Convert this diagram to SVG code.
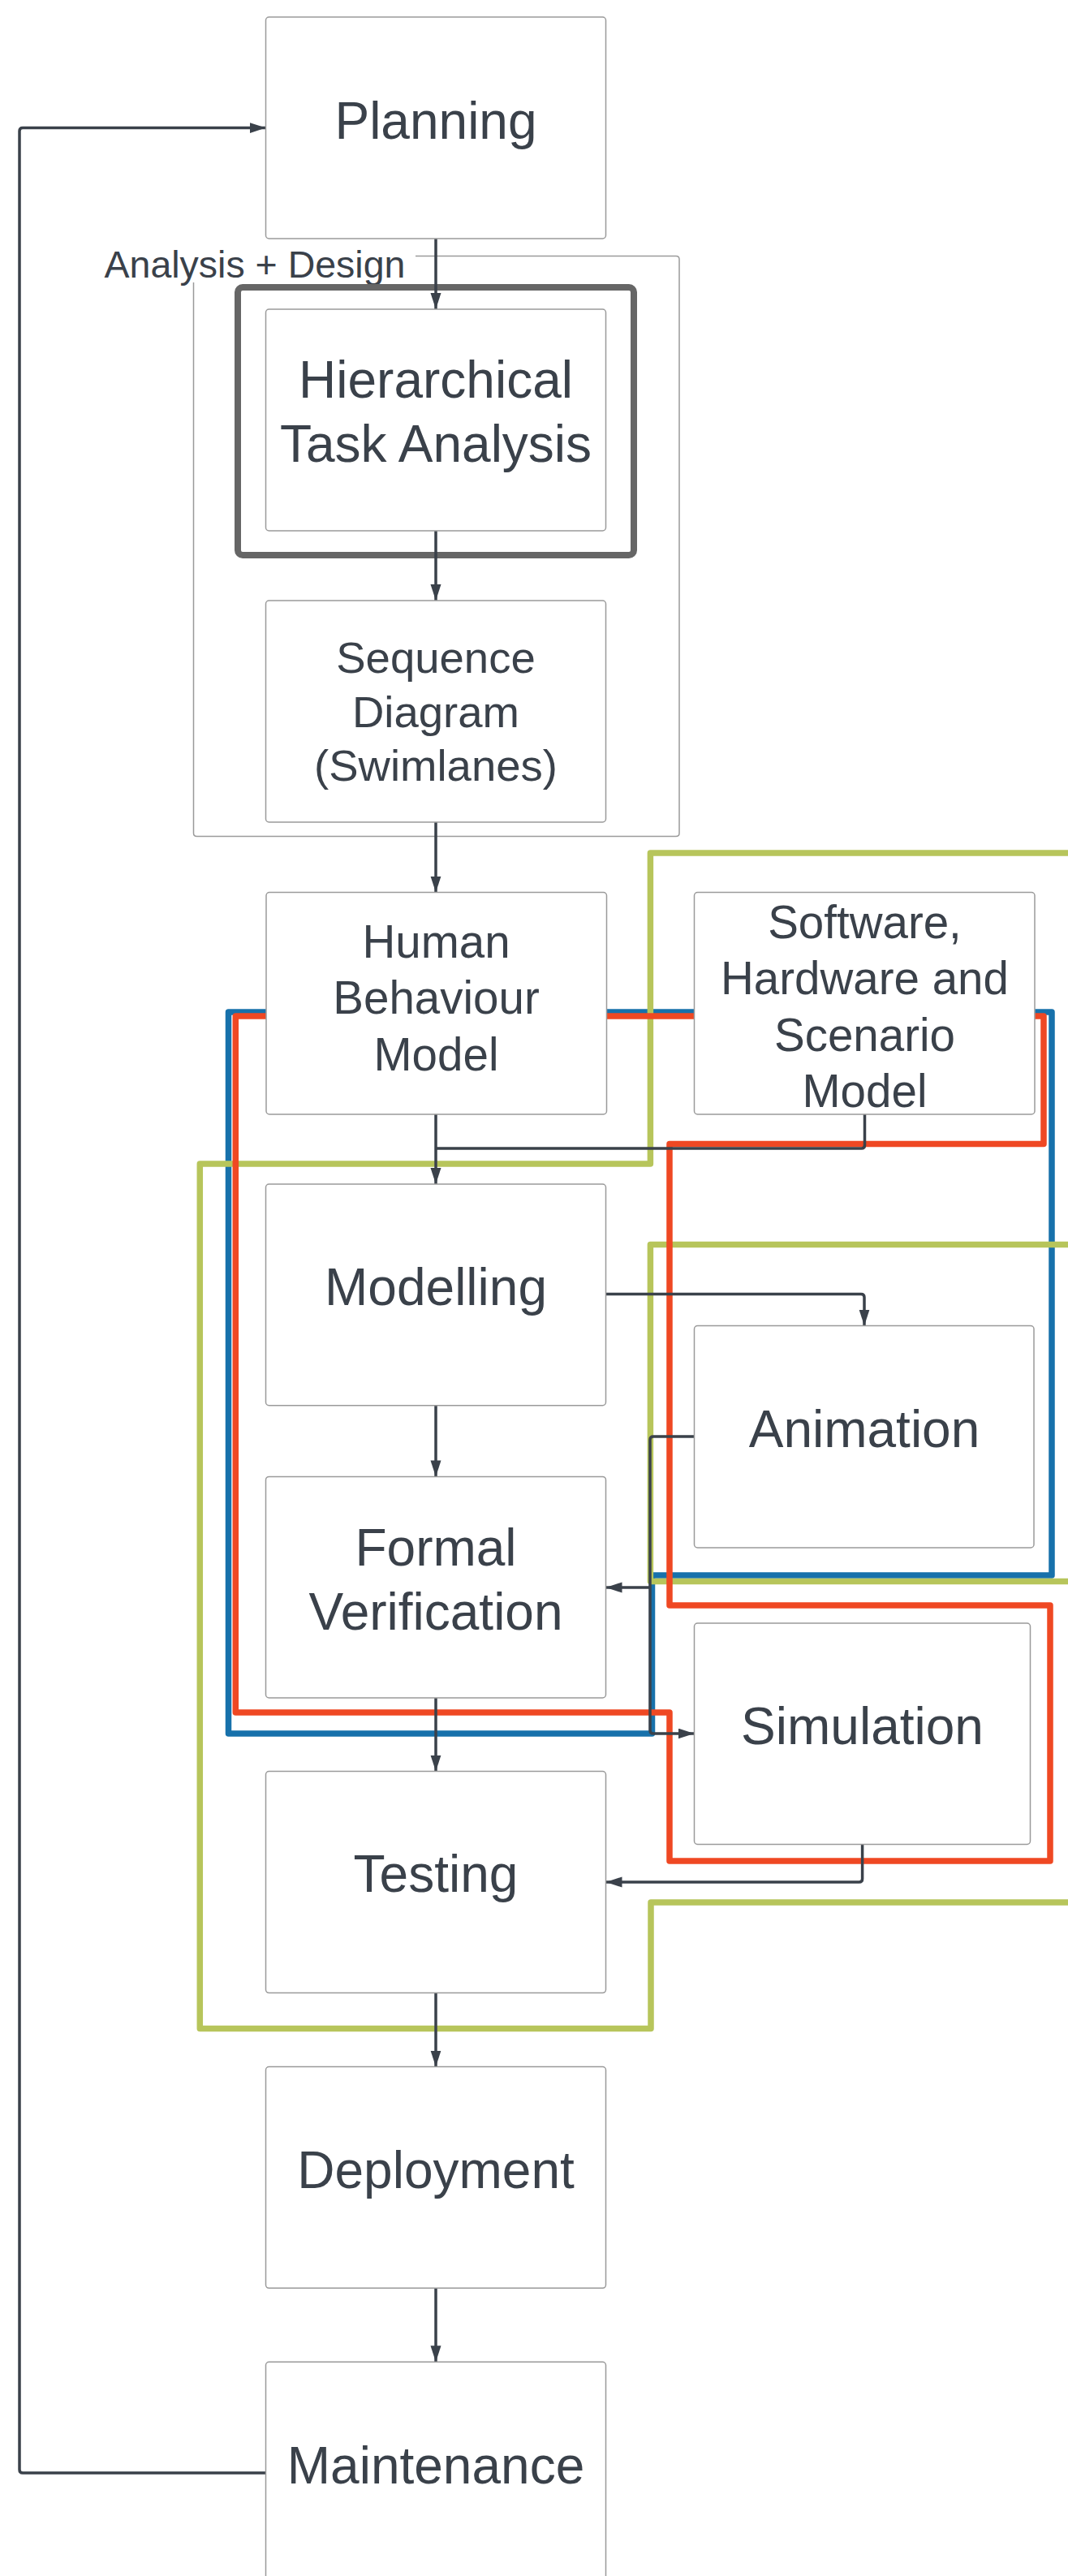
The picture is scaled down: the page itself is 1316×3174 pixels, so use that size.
<svg xmlns="http://www.w3.org/2000/svg" width="1316" height="3174" viewBox="0 0 1316 3174">
<defs>
<marker id="arr" markerUnits="userSpaceOnUse" markerWidth="22" markerHeight="15" refX="20" refY="6.5" orient="auto">
<path d="M0,0 L20,6.5 L0,13 Z" fill="#3a414a"/>
</marker>
<style>
.node{fill:#ffffff;stroke:#9a9a9a;stroke-width:1.5}
.t{font-family:"Liberation Sans",Arial,sans-serif;fill:#3a414a;text-anchor:middle}
.c{fill:none;stroke:#3a414a;stroke-width:3.5;stroke-linejoin:round}
.ca{fill:none;stroke:#3a414a;stroke-width:3.5;stroke-linejoin:round;marker-end:url(#arr)}
.hl{fill:none;stroke-width:7.5;stroke-linejoin:round}
</style>
</defs>
<rect width="1316" height="3174" fill="#ffffff"/>
<g id="analysis-design">
<path d="M512,315.6 H833 Q837,315.6 837,319.6 V1026.4 Q837,1030.4 833,1030.4 H242.5 Q238.5,1030.4 238.5,1026.4 V348" fill="none" stroke="#9a9a9a" stroke-width="1.5"/>
<text x="128.5" y="341.5" font-family="Liberation Sans, Arial, sans-serif" font-size="46.5" fill="#3a414a">Analysis + Design</text>
</g>
<g id="hta-highlight">
<rect x="293" y="354" width="488" height="330" rx="6" fill="none" stroke="#666666" stroke-width="8"/>
</g>
<g id="outlines">
<path class="hl" stroke="#1771ab" d="M281.5,1247 H1296 V1941 H803.5 V2136 H281.5 Z"/>
<path class="hl" stroke="#b7c55b" d="M1330,1051 H801.4 V1434 H246.3 V2499.4 H802 V2344 H1330"/>
<path class="hl" stroke="#b7c55b" d="M1330,1533.5 H801.4 V1948.5 H1330"/>
<path class="hl" stroke="#ef4823" d="M290.3,1252 H1286 V1409.5 H825 V1978 H1294 V2293 H825 V2110 H290.3 Z"/>
</g>
<g id="connectors">
<path class="ca" d="M537,294 V381"/>
<path class="ca" d="M537,654 V740"/>
<path class="ca" d="M537,1013 V1099.6"/>
<path class="ca" d="M537,1373 V1459"/>
<path class="c" d="M1065.5,1373 V1411 Q1065.5,1415 1061.5,1415 H537"/>
<path class="ca" d="M746.5,1594.6 H1061 Q1065,1594.6 1065,1598.6 V1633.5"/>
<path class="ca" d="M855.5,1770 H805 Q801,1770 801,1774 V2132 Q801,2136 805,2136 H855.5"/>
<path class="ca" d="M801,1956 H746.5"/>
<path class="ca" d="M537,1731.7 V1819.4"/>
<path class="ca" d="M537,2092 V2182.6"/>
<path class="ca" d="M1062.6,2272.4 V2315 Q1062.6,2319 1058.6,2319 H746.5"/>
<path class="ca" d="M537,2455.6 V2546.5"/>
<path class="ca" d="M537,2819.3 V2910.3"/>
<path class="ca" d="M327.5,3047 H28 Q24,3047 24,3043 V161.6 Q24,157.6 28,157.6 H327.5"/>
</g>
<g id="planning">
<rect class="node" x="327.5" y="21" width="419" height="273" rx="4"/>
<text class="t" x="537" y="171" font-size="64">Planning</text>
</g>
<g id="hta">
<rect class="node" x="327.5" y="381" width="419" height="273" rx="4"/>
<text class="t" x="537" y="489.7" font-size="64">Hierarchical</text>
<text class="t" x="537" y="569" font-size="64">Task Analysis</text>
</g>
<g id="sequence">
<rect class="node" x="327.5" y="740" width="419" height="273" rx="4"/>
<text class="t" x="537" y="828.7" font-size="54.5">Sequence</text>
<text class="t" x="537" y="895.6" font-size="54.5">Diagram</text>
<text class="t" x="537" y="962" font-size="54.5">(Swimlanes)</text>
</g>
<g id="hbm">
<rect class="node" x="328" y="1099.6" width="419.5" height="273.4" rx="4"/>
<text class="t" x="537.5" y="1179.5" font-size="56.5">Human</text>
<text class="t" x="537.5" y="1249" font-size="56.5">Behaviour</text>
<text class="t" x="537.5" y="1318.7" font-size="56.5">Model</text>
</g>
<g id="swhw">
<rect class="node" x="855.5" y="1099.6" width="419.5" height="273.4" rx="4"/>
<text class="t" x="1065.5" y="1155.8" font-size="56.5">Software,</text>
<text class="t" x="1065.5" y="1225.4" font-size="56.5">Hardware and</text>
<text class="t" x="1065.5" y="1294.6" font-size="56.5">Scenario</text>
<text class="t" x="1065.5" y="1363.8" font-size="56.5">Model</text>
</g>
<g id="modelling">
<rect class="node" x="327.5" y="1459" width="419" height="272.7" rx="4"/>
<text class="t" x="537" y="1608" font-size="64">Modelling</text>
</g>
<g id="animation">
<rect class="node" x="855.5" y="1633.5" width="418.5" height="273.5" rx="4"/>
<text class="t" x="1065" y="1782.6" font-size="64">Animation</text>
</g>
<g id="formal-verification">
<rect class="node" x="327.5" y="1819.4" width="419" height="272.6" rx="4"/>
<text class="t" x="537" y="1928.6" font-size="64">Formal</text>
<text class="t" x="537" y="2007.6" font-size="64">Verification</text>
</g>
<g id="simulation">
<rect class="node" x="855.5" y="2000" width="414" height="272.4" rx="4"/>
<text class="t" x="1062.5" y="2149" font-size="64">Simulation</text>
</g>
<g id="testing">
<rect class="node" x="327.5" y="2182.6" width="419" height="273" rx="4"/>
<text class="t" x="537" y="2331" font-size="64">Testing</text>
</g>
<g id="deployment">
<rect class="node" x="327.5" y="2546.5" width="419" height="272.8" rx="4"/>
<text class="t" x="537" y="2695.6" font-size="64">Deployment</text>
</g>
<g id="maintenance">
<rect class="node" x="327.5" y="2910.3" width="419" height="273" rx="4"/>
<text class="t" x="537" y="3060.3" font-size="64">Maintenance</text>
</g>
</svg>
